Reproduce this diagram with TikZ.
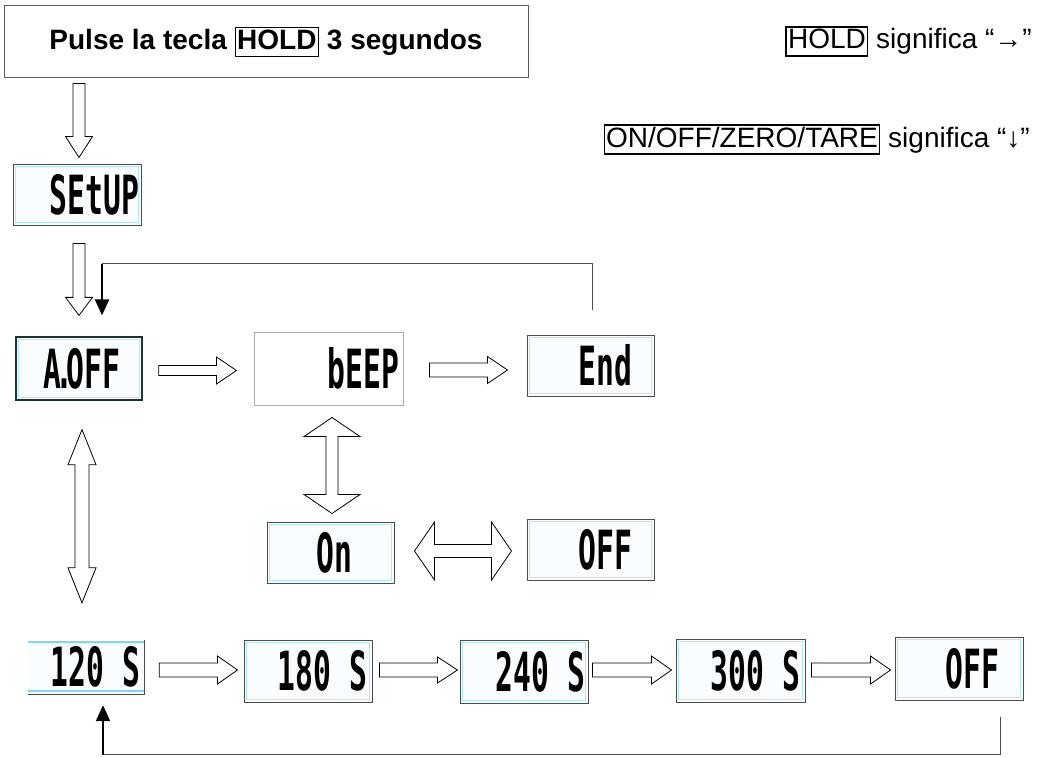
\documentclass[tikz,border=0pt]{standalone}
\usepackage{fontspec}
\setmainfont{Liberation Sans}
\newfontfamily\lcdfont{DejaVu Sans Mono}
\usetikzlibrary{calc,arrows.meta}
\newcommand{\lcd}[1]{\scalebox{0.55}[1]{\lcdfont\bfseries\fontsize{54}{58}\selectfont #1}}
\newcommand{\lcdin}[3]{\makebox[#1pt][r]{\lcd{#3}\hspace*{#2pt}}}
\newcommand{\keybox}[1]{{\setlength{\fboxsep}{1pt}\setlength{\fboxrule}{1.6pt}\fbox{\rule[-0.18em]{0pt}{0.9em}#1}}}
% hollow arrows
\newcommand{\hollowDown}[5]{\draw[hollow] let \p1=#1, \p2=#2 in
 ({\x2-#3pt},\y1) -- ({\x2-#3pt},{\y2+#5pt}) -- ({\x2-#4pt},{\y2+#5pt}) -- (\x2,\y2) -- ({\x2+#4pt},{\y2+#5pt}) -- ({\x2+#3pt},{\y2+#5pt}) -- ({\x2+#3pt},\y1) -- cycle;}
\newcommand{\hollowRight}[4]{\draw[hollow] let \p1=#1, \p2=#2 in
 (\x1,{\y1+#3pt}) -- ({\x2-20pt},{\y1+#3pt}) -- ({\x2-20pt},{\y1+#4pt}) -- (\x2,\y1) -- ({\x2-20pt},{\y1-#4pt}) -- ({\x2-20pt},{\y1-#3pt}) -- (\x1,{\y1-#3pt}) -- cycle;}
\newcommand{\hollowVDouble}[5]{\draw[hollow] let \p1=#1, \p2=#2 in
 (\x1,\y1) -- ({\x1+#4pt},{\y1-#5pt}) -- ({\x1+#3pt},{\y1-#5pt}) -- ({\x1+#3pt},{\y2+#5pt}) -- ({\x1+#4pt},{\y2+#5pt}) -- (\x1,\y2) -- ({\x1-#4pt},{\y2+#5pt}) -- ({\x1-#3pt},{\y2+#5pt}) -- ({\x1-#3pt},{\y1-#5pt}) -- ({\x1-#4pt},{\y1-#5pt}) -- cycle;}
\newcommand{\hollowHDouble}[5]{\draw[hollow] let \p1=#1, \p2=#2 in
 (\x1,\y1) -- ({\x1+#5pt},{\y1+#4pt}) -- ({\x1+#5pt},{\y1+#3pt}) -- ({\x2-#5pt},{\y1+#3pt}) -- ({\x2-#5pt},{\y1+#4pt}) -- (\x2,\y1) -- ({\x2-#5pt},{\y1-#4pt}) -- ({\x2-#5pt},{\y1-#3pt}) -- ({\x1+#5pt},{\y1-#3pt}) -- ({\x1+#5pt},{\y1-#4pt}) -- cycle;}
\begin{document}
\begin{tikzpicture}[x=1pt,y=-1pt,
  lcd/.style={draw=gray!60!black, line width=1pt, fill=cyan!2, inner sep=0pt,
    path picture={\draw[cyan!30, line width=0.8pt] ([shift={(2.5pt,2.5pt)}]path picture bounding box.south west) rectangle ([shift={(-2.5pt,-2.5pt)}]path picture bounding box.north east);}},
  lcdplain/.style={draw=gray!65, line width=1pt, fill=white, inner sep=0pt},
  lcddark/.style={lcd, draw={rgb,255:red,25;green,50;blue,50}, line width=1.3pt},
  lcdcut/.style={fill=cyan!2, inner sep=0pt,
    path picture={\draw[cyan!50, line width=1.2pt] ([yshift=-2pt]path picture bounding box.north west) -- ([yshift=-2pt]path picture bounding box.north east) ([yshift=3pt]path picture bounding box.south west) -- ([yshift=3pt]path picture bounding box.south east);}},
  hollow/.style={draw=black, line width=0.8pt, fill=white, line join=miter},
  thinline/.style={draw=gray!60!black, line width=1pt},
  blk/.style={draw=black, line width=2pt, -{Triangle[length=16pt,width=14pt]}},
  legend/.style={anchor=base east, inner sep=0pt, font=\fontsize{28}{32}\selectfont},
]
\useasboundingbox (0,0) rectangle (1040,757);
\fill[white] (0,0) rectangle (1040,757);

% title and legend
\node[draw=gray!70!black, line width=1pt, minimum width=524pt, minimum height=72pt, inner sep=0pt,
  font=\bfseries\fontsize{28}{32}\selectfont] (title) at (266,42) {Pulse la tecla \keybox{HOLD} 3 segundos};
\node[legend] (leg1) at (1032,49) {\keybox{HOLD} significa “→”};
\node[legend] (leg2) at (1030,147) {\keybox{ON/OFF/ZERO/TARE} significa “↓”};

% displays
\node[lcd, minimum width=128pt, minimum height=61pt] (setup) at (77,194.5) {\lcdin{128}{2}{SEtUP}};
\node[lcddark, minimum width=126pt, minimum height=63pt] (aoff) at (79,368.5) {\lcdin{126}{22}{A\kern-0.22em.\kern-0.22em OFF}};
\node[lcdplain, minimum width=149pt, minimum height=73pt] (beep) at (328.5,368.5) {\lcdin{149}{4}{bEEP}};
\node[lcd, minimum width=127pt, minimum height=61pt] (endb) at (590.5,365.5) {\lcdin{127}{22}{End}};
\node[lcd, minimum width=127pt, minimum height=61pt] (onb) at (330.5,552.5) {\lcdin{127}{42}{On}};
\node[lcd, minimum width=127pt, minimum height=61pt] (offm) at (590.5,549.5) {\lcdin{127}{22}{OFF}};
\node[lcdcut, minimum width=116pt, minimum height=54pt] (t120) at (86,667) {\lcdin{116}{4}{120 S}};
\draw[gray!60!black, line width=1pt] (t120.north east) -- (t120.south east) -- (t120.south west);
\node[lcd, minimum width=128pt, minimum height=62pt] (t180) at (308,671) {\lcdin{128}{5}{180 S}};
\node[lcd, minimum width=128pt, minimum height=63pt] (t240) at (524,671.5) {\lcdin{128}{3}{240 S}};
\node[lcd, minimum width=129pt, minimum height=63pt] (t300) at (740.5,670.5) {\lcdin{129}{5}{300 S}};
\node[lcd, minimum width=128pt, minimum height=63pt] (offb) at (959,668.5) {\lcdin{128}{24}{OFF}};

% hollow arrows
\hollowDown{($(title.south west)+(75,5)$)}{($(setup.north)+(2,-6)$)}{6}{13.5}{21}
\hollowDown{($(setup.south)+(2,18)$)}{($(aoff.north)+(0,-21)$)}{6}{13.5}{18}
\hollowRight{($(aoff.east)+(16,2)$)}{($(beep.west)+(-17,0)$)}{5}{13.5}
\hollowRight{($(beep.east)+(26,1.5)$)}{($(endb.west)+(-19,0)$)}{7}{13.5}
\hollowVDouble{($(beep.south)+(3.5,12)$)}{($(onb.north)+(1.5,-8)$)}{6}{28}{19}
\hollowHDouble{($(onb.east)+(20,-1.5)$)}{($(offm.west)+(-15,0)$)}{6.5}{29}{20}
\hollowVDouble{($(aoff.south)+(3,29)$)}{($(t120.north)+(-4,-37)$)}{7}{14}{35}
\hollowRight{($(t120.east)+(15,3)$)}{($(t180.west)+(-6,0)$)}{7}{14}
\hollowRight{($(t180.east)+(7,-1)$)}{($(t240.west)+(-2,0)$)}{7}{13}
\hollowRight{($(t240.east)+(4,-1.5)$)}{($(t300.west)+(-4,0)$)}{7}{14}
\hollowRight{($(t300.east)+(6,-0.5)$)}{($(offb.west)+(-4,0)$)}{7}{14}

% return loops
\coordinate (loopA) at ($(endb.north)+(1.5,-25)$);
\coordinate (tipA) at ($(aoff.north)+(23,-21)$);
\draw[thinline] (loopA) -- ++(0,-46) coordinate (cA) -- (cA -| tipA) coordinate (dA);
\draw[blk] (dA) -- (tipA);
\coordinate (loopB) at ($(offb.south)+(41,16)$);
\coordinate (tipB) at ($(t120.south)+(17,11)$);
\draw[thinline] (loopB) -- ++(0,38) coordinate (cB) -- (cB -| tipB) coordinate (dB);
\draw[blk] (dB) -- (tipB);
\end{tikzpicture}
\end{document}
